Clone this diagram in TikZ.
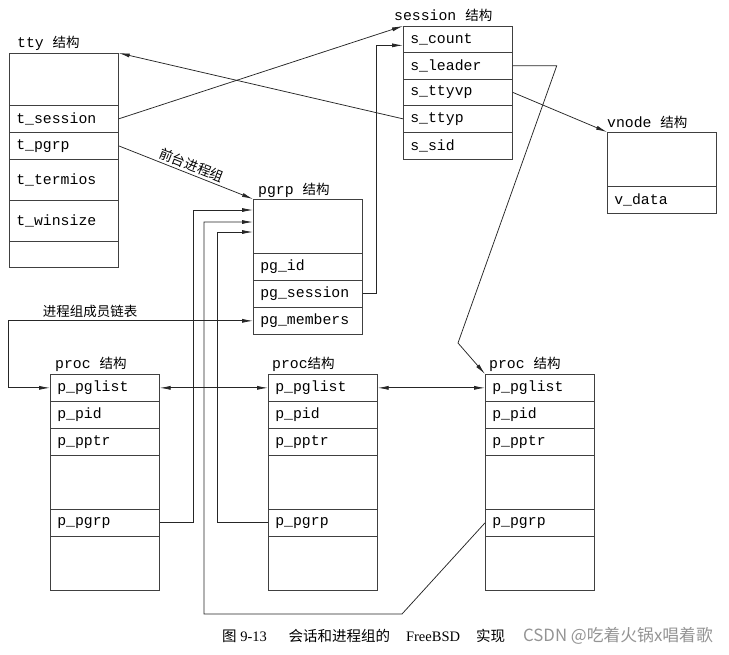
\documentclass[tikz,border=0pt]{standalone}
\usepackage{fontspec}
\setmainfont{Liberation Serif}
\setmonofont{Liberation Mono}
\newfontfamily\cjk{Noto Sans CJK SC}
\usetikzlibrary{arrows.meta}

\tikzset{
  field/.style={draw=black!75, rectangle, line width=0.7pt, anchor=north west, text width=95pt, inner xsep=7pt, inner ysep=0pt, minimum height=27pt, align=left, font=\fontsize{14.8}{16}\ttfamily},
  title/.style={anchor=west, inner sep=0pt, font=\fontsize{14.8}{16}\ttfamily},
  label/.style={inner sep=2pt, font=\cjk\fontsize{13.5}{16}\selectfont},
  link/.style={draw=black!85, line width=0.75pt},
  arr/.style={link, -{Latex[length=11pt, width=4pt]}},
  darr/.style={link, {Latex[length=11pt, width=4pt]}-{Latex[length=11pt, width=4pt]}},
}
\newcommand{\jg}{{\cjk\fontsize{13.5}{16}\selectfont 结构}}

\begin{document}
\begin{tikzpicture}[x=1pt, y=-1pt]

    \useasboundingbox (0,0) rectangle (729,654);

    % tty structure
    \node[title] (tty_title) at (17,43) {tty \jg};
    \node[field, minimum height=52pt] (tty_top) at (9,53) {};
    \node[field] (tty_session) at (9,105) {t\_session};
    \node[field] (tty_pgrp) at (9,132) {t\_pgrp};
    \node[field, minimum height=41pt] (tty_termios) at (9,159) {t\_termios};
    \node[field, minimum height=41pt] (tty_winsize) at (9,200) {t\_winsize};
    \node[field, minimum height=26pt] (tty_end) at (9,241) {};

    % session structure
    \node[title] (s_title) at (394,15) {session \jg};
    \node[field, minimum height=26pt] (s_count) at (403,26) {s\_count};
    \node[field] (s_leader) at (403,52) {s\_leader};
    \node[field, minimum height=26pt] (s_ttyvp) at (403,79) {s\_ttyvp};
    \node[field] (s_ttyp) at (403,105) {s\_ttyp};
    \node[field] (s_sid) at (403,132) {s\_sid};

    % vnode structure
    \node[title] (v_title) at (607,122) {vnode \jg};
    \node[field, minimum height=54pt] (v_top) at (607,132) {};
    \node[field] (v_data) at (607,186) {v\_data};

    % pgrp structure
    \node[title] (pg_title) at (258,190) {pgrp \jg};
    \node[field, minimum height=54pt] (pg_top) at (253,199) {};
    \node[field] (pg_id) at (253,253) {pg\_id};
    \node[field] (pg_session) at (253,280) {pg\_session};
    \node[field] (pg_members) at (253,307) {pg\_members};

    % first proc structure
    \node[title] (p1_title) at (55,364) {proc \jg};
    \node[field] (p1_pglist) at (50,374) {p\_pglist};
    \node[field] (p1_pid) at (50,401) {p\_pid};
    \node[field] (p1_pptr) at (50,428) {p\_pptr};
    \node[field, minimum height=54pt] (p1_mid) at (50,455) {};
    \node[field] (p1_pgrp) at (50,509) {p\_pgrp};
    \node[field, minimum height=54pt] (p1_end) at (50,536) {};

    % second proc structure
    \node[title] (p2_title) at (272,364) {proc\jg};
    \node[field] (p2_pglist) at (268,374) {p\_pglist};
    \node[field] (p2_pid) at (268,401) {p\_pid};
    \node[field] (p2_pptr) at (268,428) {p\_pptr};
    \node[field, minimum height=54pt] (p2_mid) at (268,455) {};
    \node[field] (p2_pgrp) at (268,509) {p\_pgrp};
    \node[field, minimum height=54pt] (p2_end) at (268,536) {};

    % third proc structure
    \node[title] (p3_title) at (489,364) {proc \jg};
    \node[field] (p3_pglist) at (485,374) {p\_pglist};
    \node[field] (p3_pid) at (485,401) {p\_pid};
    \node[field] (p3_pptr) at (485,428) {p\_pptr};
    \node[field, minimum height=54pt] (p3_mid) at (485,455) {};
    \node[field] (p3_pgrp) at (485,509) {p\_pgrp};
    \node[field, minimum height=54pt] (p3_end) at (485,536) {};

    % tty and session point at each other
    \draw[arr] (tty_session.east) -- (s_count.north west);
    \draw[arr] (s_ttyp.west) -- (tty_top.north east);
    % foreground process group
    \draw[arr] (tty_pgrp.east) -- node[label, sloped, above, pos=0.52] (fg_label) {前台进程组} (pg_top.north west);
    % session to vnode
    \draw[arr] (s_ttyvp.east) -- (v_top.north west);
    % session leader to the third proc
    \draw[arr] (s_leader.east) -- ++(44,0) -- (458,343) -- (p3_pglist.north west);
    % pgrp back to its session
    \draw[arr] (pg_session.east) -- ++(14,0) |- ([yshift=-6pt]s_count.west);

    % member list of the process group
    \node[label] (members_label) at (90,311) {进程组成员链表};
    \draw[darr] (pg_members.west) -| ([xshift=-42pt]p1_pglist.west) -- (p1_pglist.west);
    \draw[darr] (p1_pglist.east) -- (p2_pglist.west);
    \draw[darr] (p2_pglist.east) -- (p3_pglist.west);

    % every proc points at the pgrp
    \coordinate (pg_in1) at (253,210);
    \coordinate (pg_in2) at (253,222);
    \coordinate (pg_in3) at (253,232);
    \draw[arr] (p1_pgrp.east) -| ([xshift=-60pt]pg_in1) -- (pg_in1);
    \draw[arr] (p3_pgrp.west) -- (402,614) -| ([xshift=-49pt]pg_in2) -- (pg_in2);
    \draw[arr] (p2_pgrp.west) -| ([xshift=-36pt]pg_in3) -- (pg_in3);

    % caption
    \node[anchor=west, inner sep=0pt, font=\fontsize{14.5}{16}\selectfont] (caption) at (222,636) {{\cjk 图} 9-13\hspace{1.5em}{\cjk 会话和进程组的}\hspace{1.1em}FreeBSD\hspace{1.1em}{\cjk 实现}};
    \node[anchor=west, inner sep=0pt, text=black!42, font=\cjk\fontsize{16.8}{18}\selectfont] (mark) at (523,636) {CSDN @吃着火锅x唱着歌};

\end{tikzpicture}
\end{document}
